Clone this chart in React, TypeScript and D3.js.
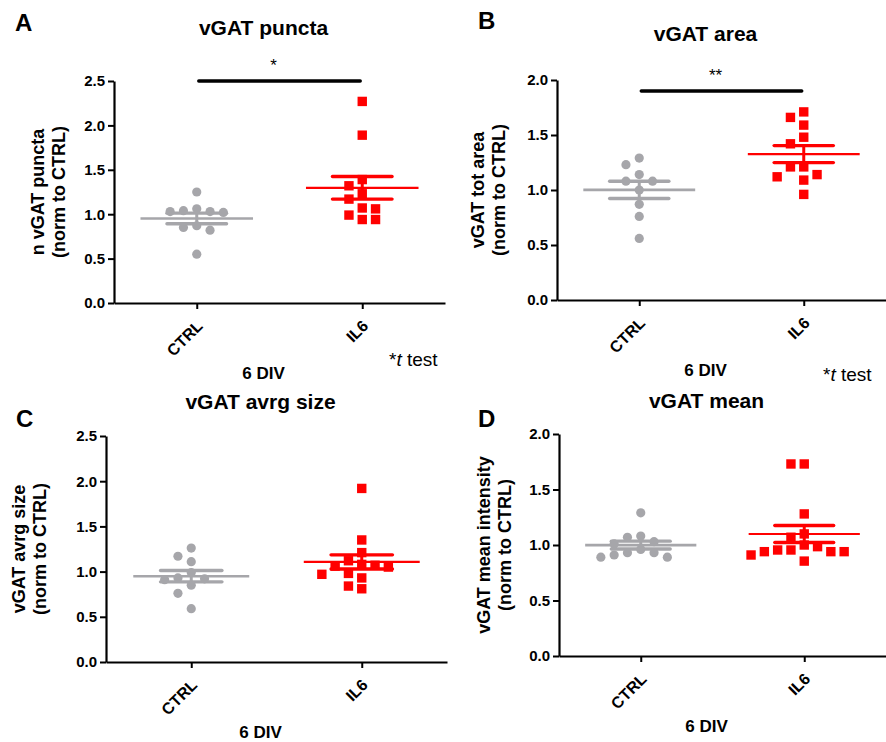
import React, { useEffect, useRef } from "react";
import * as d3 from "d3";

const categories = ["CTRL", "IL6"];

// values (normalised to CTRL)
const punctaCtrl = [1.25, 1.06, 1.04, 1.03, 1.03, 1.02, 0.87, 0.85, 0.82, 0.55];
const punctaIl6 = [2.27, 1.89, 1.39, 1.32, 1.23, 1.17, 1.07, 1.06, 0.99, 0.94, 0.94];
const areaCtrl = [1.29, 1.23, 1.14, 1.08, 1.08, 1.0, 0.87, 0.76, 0.56];
const areaIl6 = [1.71, 1.66, 1.59, 1.48, 1.42, 1.21, 1.21, 1.14, 1.12, 1.09, 0.96];
const sizeCtrl = [1.26, 1.17, 1.11, 0.99, 0.93, 0.92, 0.91, 0.85, 0.76, 0.59];
const sizeIl6 = [1.92, 1.35, 1.21, 1.12, 1.08, 1.07, 1.06, 1.05, 0.98, 0.97, 0.93, 0.84, 0.81];
const meanCtrl = [1.29, 1.08, 1.07, 1.03, 1.01, 0.96, 0.93, 0.93, 0.91, 0.89, 0.89];
const meanIl6 = [1.73, 1.73, 1.28, 1.1, 1.07, 1.0, 0.985, 0.955, 0.955, 0.94, 0.94, 0.94, 0.91, 0.855];

const ticks25 = [0, 0.5, 1, 1.5, 2, 2.5];
const ticks20 = [0, 0.5, 1, 1.5, 2];

const sigPuncta = { value: 2.5, text: "*" };
const sigArea = { value: 1.9, text: "**" };

const GREY = "#a6a6aa";
const RED = "#ff0000";
const FONT = "'Liberation Sans', Arial, sans-serif";

const panels = [
  {
    letter: "A", title: "vGAT puncta", yLabel: ["n vGAT puncta", "(norm to CTRL)"],
    ctrl: punctaCtrl, il6: punctaIl6, ticks: ticks25, sig: sigPuncta,
    x0: 114, x1: 445, yTop: 81, yBot: 303, letterX: 15, letterY: 31, titleY: 35,
    labelOff: -70, ttest: { x: 389, y: 366 },
  },
  {
    letter: "B", title: "vGAT area", yLabel: ["vGAT tot area", "(norm to CTRL)"],
    ctrl: areaCtrl, il6: areaIl6, ticks: ticks20, sig: sigArea,
    x0: 557, x1: 886, yTop: 80, yBot: 300, letterX: 478, letterY: 29, titleY: 41,
    labelOff: -73, ttest: { x: 823, y: 381 },
  },
  {
    letter: "C", title: "vGAT avrg size", yLabel: ["vGAT avrg size", "(norm to CTRL)"],
    ctrl: sizeCtrl, il6: sizeIl6, ticks: ticks25, sig: null,
    x0: 106, x1: 447, yTop: 436, yBot: 662, letterX: 16, letterY: 427, titleY: 409,
    labelOff: -81, ttest: null,
  },
  {
    letter: "D", title: "vGAT mean", yLabel: ["vGAT mean intensity", "(norm to CTRL)"],
    ctrl: meanCtrl, il6: meanIl6, ticks: ticks20, sig: null,
    x0: 559, x1: 886, yTop: 434, yBot: 656, letterX: 478, letterY: 427, titleY: 408,
    labelOff: -69, ttest: null,
  },
];

// simple column beeswarm: put each point in the nearest free column
function swarm(values, y, step, gap) {
  const order = values.map((v, i) => i).sort((a, b) => values[b] - values[a]);
  const placed = [];
  const offs = new Array(values.length).fill(0);
  for (const i of order) {
    const py = y(values[i]);
    for (let k = 0; k < 30; k++) {
      const col = k === 0 ? 0 : k % 2 === 1 ? -Math.ceil(k / 2) : Math.ceil(k / 2);
      if (!placed.some((q) => q.col === col && Math.abs(q.py - py) < gap)) {
        placed.push({ col, py });
        offs[i] = col * step;
        break;
      }
    }
  }
  return offs;
}

function drawPanel(g, p) {
  const x = d3.scalePoint().domain(categories).range([p.x0, p.x1]).padding(0.5);
  const y = d3
    .scaleLinear()
    .domain([0, p.ticks[p.ticks.length - 1]])
    .range([p.yBot, p.yTop]);
  const step = x.step();
  const mid = (x("CTRL") + x("IL6")) / 2 - 16;

  // axes
  const yAxis = d3
    .axisLeft(y)
    .tickValues(p.ticks)
    .tickFormat(d3.format(".1f"))
    .tickSize(6)
    .tickSizeOuter(0)
    .tickPadding(3);
  const ya = g.append("g").attr("transform", `translate(${p.x0},0)`).call(yAxis);
  ya.select(".domain").attr("stroke-width", 2.2);
  ya.selectAll(".tick line").attr("stroke-width", 2);
  ya.selectAll("text")
    .style("font-family", FONT)
    .style("font-weight", "bold")
    .style("font-size", "15px")
    .attr("fill", "#000");

  const xAxis = d3.axisBottom(x).tickSize(6).tickSizeOuter(0).tickFormat(() => "");
  const xa = g.append("g").attr("transform", `translate(0,${p.yBot})`).call(xAxis);
  xa.select(".domain").attr("stroke-width", 2.2);
  xa.selectAll(".tick line").attr("stroke-width", 2);

  g.selectAll(".xlab")
    .data(categories)
    .join("text")
    .attr("class", "xlab")
    .attr("transform", (d) => `translate(${x(d) + 7},${p.yBot + 24}) rotate(-45)`)
    .attr("text-anchor", "end")
    .style("font-family", FONT)
    .style("font-weight", "bold")
    .style("font-size", "16px")
    .text((d) => d);

  // points
  const groups = [
    { name: "CTRL", values: p.ctrl, color: GREY, shape: "circle", meanW: 2.6 },
    { name: "IL6", values: p.il6, color: RED, shape: "square", meanW: 2.2 },
  ];
  groups.forEach((grp) => {
    const cx = x(grp.name);
    const offs = swarm(grp.values, y, 13.3, 10);
    if (grp.shape === "circle") {
      g.append("g")
        .selectAll("circle")
        .data(grp.values)
        .join("circle")
        .attr("cx", (d, i) => cx + offs[i])
        .attr("cy", (d) => y(d))
        .attr("r", 4.6)
        .attr("fill", grp.color);
    } else {
      g.append("g")
        .selectAll("rect")
        .data(grp.values)
        .join("rect")
        .attr("x", (d, i) => cx + offs[i] - 4.7)
        .attr("y", (d) => y(d) - 4.7)
        .attr("width", 9.4)
        .attr("height", 9.4)
        .attr("fill", grp.color);
    }

    const m = d3.mean(grp.values);
    const sem = d3.deviation(grp.values) / Math.sqrt(grp.values.length);
    const meanHalf = step * 0.34;
    const semHalf = step * 0.18;
    g.append("line")
      .attr("x1", cx - meanHalf)
      .attr("x2", cx + meanHalf)
      .attr("y1", y(m))
      .attr("y2", y(m))
      .attr("stroke", grp.color)
      .attr("stroke-width", grp.meanW);
    g.append("line")
      .attr("x1", cx)
      .attr("x2", cx)
      .attr("y1", y(m - sem))
      .attr("y2", y(m + sem))
      .attr("stroke", grp.color)
      .attr("stroke-width", 3);
    [m - sem, m + sem].forEach((v) => {
      g.append("line")
        .attr("x1", cx - semHalf)
        .attr("x2", cx + semHalf)
        .attr("y1", y(v))
        .attr("y2", y(v))
        .attr("stroke", grp.color)
        .attr("stroke-width", 3.4)
        .attr("stroke-linecap", "round");
    });
  });

  // significance bar
  if (p.sig) {
    g.append("line")
      .attr("x1", x("CTRL") + 2)
      .attr("x2", x("IL6") - 2)
      .attr("y1", y(p.sig.value))
      .attr("y2", y(p.sig.value))
      .attr("stroke", "#000")
      .attr("stroke-width", 3.4)
      .attr("stroke-linecap", "round");
    g.append("text")
      .attr("x", (x("CTRL") + x("IL6")) / 2 - 6)
      .attr("y", y(p.sig.value) - 10)
      .attr("text-anchor", "middle")
      .style("font-family", FONT)
      .style("font-size", "17px")
      .text(p.sig.text);
  }

  // titles and labels
  g.append("text")
    .attr("x", p.letterX)
    .attr("y", p.letterY)
    .style("font-family", FONT)
    .style("font-weight", "bold")
    .style("font-size", "24px")
    .text(p.letter);

  g.append("text")
    .attr("x", mid)
    .attr("y", p.titleY)
    .attr("text-anchor", "middle")
    .style("font-family", FONT)
    .style("font-weight", "bold")
    .style("font-size", "21px")
    .text(p.title);

  g.append("text")
    .attr("x", mid)
    .attr("y", p.yBot + 76)
    .attr("text-anchor", "middle")
    .style("font-family", FONT)
    .style("font-weight", "bold")
    .style("font-size", "17px")
    .text("6 DIV");

  const yc = (p.yTop + p.yBot) / 2;
  p.yLabel.forEach((line, i) => {
    g.append("text")
      .attr("transform", `translate(${p.x0 + p.labelOff + i * 21},${yc}) rotate(-90)`)
      .attr("text-anchor", "middle")
      .style("font-family", FONT)
      .style("font-weight", "bold")
      .style("font-size", "18px")
      .text(line);
  });

  if (p.ttest) {
    const t = g
      .append("text")
      .attr("x", p.ttest.x)
      .attr("y", p.ttest.y)
      .style("font-family", FONT)
      .style("font-size", "19px");
    t.append("tspan").text("*");
    t.append("tspan").style("font-style", "italic").text("t");
    t.append("tspan").text(" test");
  }
}

export default function App() {
  const svgRef = useRef(null);

  useEffect(() => {
    const svg = d3.select(svgRef.current);
    svg.selectAll("*").remove();
    panels.forEach((p) => drawPanel(svg.append("g"), p));
  }, []);

  return (
    <svg
      ref={svgRef}
      width={886}
      height={742}
      style={{ position: "absolute", left: 0, top: 0, background: "#fff" }}
    />
  );
}
